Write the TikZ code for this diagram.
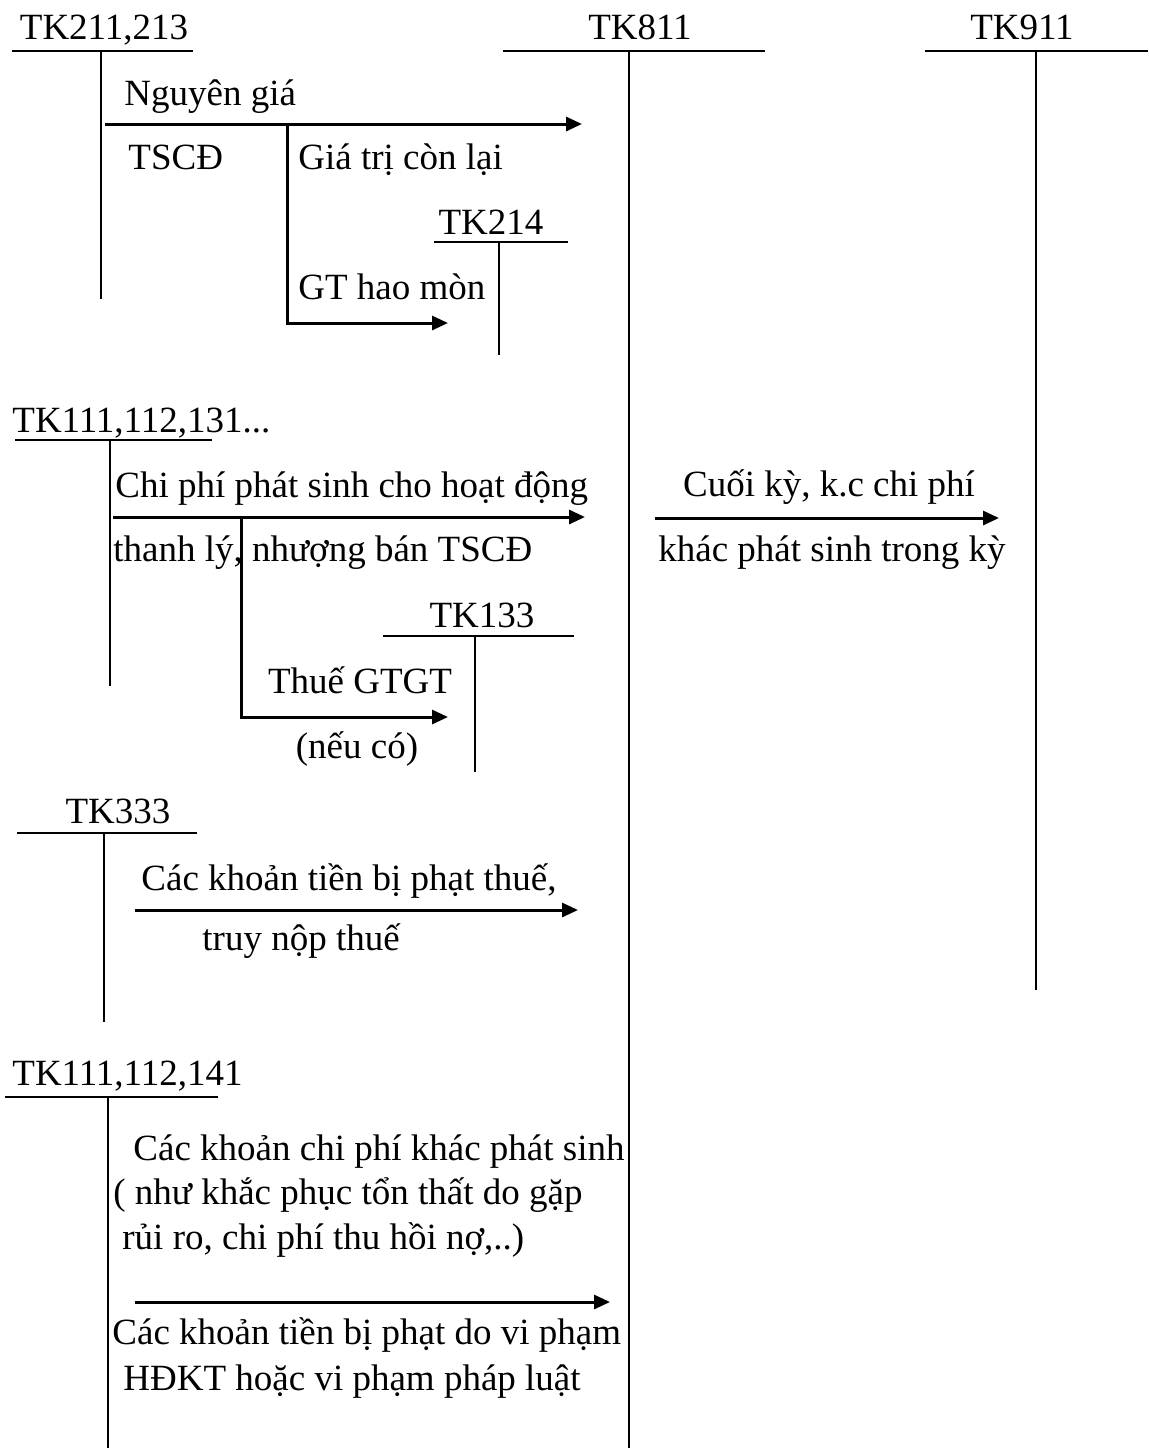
\documentclass[tikz,border=0pt]{standalone}
\usepackage{fontspec}
\setmainfont{Liberation Serif}
\usetikzlibrary{arrows.meta}
\begin{document}
\begin{tikzpicture}[x=0.5pt,y=-0.5pt,
  txt/.style={inner sep=0pt, anchor=base west, font=\fontsize{18.5}{22}\selectfont},
  ctxt/.style={inner sep=0pt, anchor=base, font=\fontsize{18.5}{22}\selectfont},
  tline/.style={line width=1pt},
  flow/.style={line width=1.5pt, -{Triangle[length=8pt,width=7pt]}}]
\useasboundingbox (0,0) rectangle (1148,1448);

% ---------- T accounts ----------
% TK211,213
\node[ctxt] (t211) at (104,39) {TK211,213};
\coordinate (t211l) at (12,51); \coordinate (t211r) at (193,51);
\coordinate (t211t) at (101,51); \coordinate (t211b) at (101,299);
\draw[tline] (t211l) -- (t211r); \draw[tline] (t211t) -- (t211b);
% TK811
\node[ctxt] (t811) at (640,39) {TK811};
\coordinate (t811l) at (503,51); \coordinate (t811r) at (765,51);
\coordinate (t811t) at (629,51); \coordinate (t811b) at (629,1448);
\draw[tline] (t811l) -- (t811r); \draw[tline] (t811t) -- (t811b);
% TK911
\node[ctxt] (t911) at (1022,39) {TK911};
\coordinate (t911l) at (925,51); \coordinate (t911r) at (1148,51);
\coordinate (t911t) at (1036,51); \coordinate (t911b) at (1036,990);
\draw[tline] (t911l) -- (t911r); \draw[tline] (t911t) -- (t911b);
% TK214
\node[ctxt] (t214) at (491,234) {TK214};
\coordinate (t214l) at (434,242); \coordinate (t214r) at (568,242);
\coordinate (t214t) at (499,242); \coordinate (t214b) at (499,355);
\draw[tline] (t214l) -- (t214r); \draw[tline] (t214t) -- (t214b);
% TK111,112,131...
\node[txt] (t111a) at (12,432) {TK111,112,131...};
\coordinate (t111al) at (15,440); \coordinate (t111ar) at (212,440);
\coordinate (t111at) at (110,440); \coordinate (t111ab) at (110,686);
\draw[tline] (t111al) -- (t111ar); \draw[tline] (t111at) -- (t111ab);
% TK133
\node[ctxt] (t133) at (482,627) {TK133};
\coordinate (t133l) at (383,636); \coordinate (t133r) at (574,636);
\coordinate (t133t) at (475,636); \coordinate (t133b) at (475,772);
\draw[tline] (t133l) -- (t133r); \draw[tline] (t133t) -- (t133b);
% TK333
\node[ctxt] (t333) at (118,823) {TK333};
\coordinate (t333l) at (17,833); \coordinate (t333r) at (197,833);
\coordinate (t333t) at (104,833); \coordinate (t333b) at (104,1022);
\draw[tline] (t333l) -- (t333r); \draw[tline] (t333t) -- (t333b);
% TK111,112,141
\node[txt] (t111b) at (12,1085) {TK111,112,141};
\coordinate (t111bl) at (5,1097); \coordinate (t111br) at (218,1097);
\coordinate (t111bt) at (108,1097); \coordinate (t111bb) at (108,1448);
\draw[tline] (t111bl) -- (t111br); \draw[tline] (t111bt) -- (t111bb);

% ---------- Flow 1: TSCD ----------
\node[txt] (ng) at (124,105) {Nguyên giá};
\node[txt] (tscd) at (128,169) {TSCĐ};
\node[txt] (gtcl) at (298,169) {Giá trị còn lại};
\node[txt] (gthm) at (298,299) {GT hao mòn};
\coordinate (a1s) at (105,124); \coordinate (a1e) at (582,124);
\coordinate (b1s) at (287,124); \coordinate (b1e) at (448,323);
\draw[flow] (a1s) -- (a1e);
\draw[flow] (b1s) |- (b1e);

% ---------- Flow 2: chi phi thanh ly ----------
\node[txt] (cp1) at (115,497) {Chi phí phát sinh cho hoạt động};
\node[txt] (cp2) at (113,561) {thanh lý, nhượng bán TSCĐ};
\node[ctxt] (vat1) at (360,693) {Thuế GTGT};
\node[ctxt] (vat2) at (357,758) {(nếu có)};
\coordinate (a2s) at (113,517); \coordinate (a2e) at (585,517);
\coordinate (b2s) at (241,517); \coordinate (b2e) at (448,717);
\draw[flow] (a2s) -- (a2e);
\draw[flow] (b2s) |- (b2e);

% ---------- Flow 3: ket chuyen ----------
\node[ctxt] (kc1) at (829,496) {Cuối kỳ, k.c chi phí};
\node[ctxt] (kc2) at (832,561) {khác phát sinh trong kỳ};
\coordinate (a3s) at (655,518); \coordinate (a3e) at (999,518);
\draw[flow] (a3s) -- (a3e);

% ---------- Flow 4: TK333 ----------
\node[txt] (ph1) at (141,890) {Các khoản tiền bị phạt thuế,};
\node[txt] (ph2) at (202,950) {truy nộp thuế};
\coordinate (a4s) at (135,910); \coordinate (a4e) at (578,910);
\draw[flow] (a4s) -- (a4e);

% ---------- Flow 5: TK111,112,141 ----------
\node[txt] (k1) at (133,1160) {Các khoản chi phí khác phát sinh};
\node[txt] (k2) at (113,1204) {( như khắc phục tổn thất do gặp};
\node[txt] (k3) at (122,1249) {rủi ro, chi phí thu hồi nợ,..)};
\node[txt] (k4) at (112,1344) {Các khoản tiền bị phạt do vi phạm};
\node[txt] (k5) at (123,1390) {HĐKT hoặc vi phạm pháp luật};
\coordinate (a5s) at (135,1302); \coordinate (a5e) at (610,1302);
\draw[flow] (a5s) -- (a5e);
\end{tikzpicture}
\end{document}
